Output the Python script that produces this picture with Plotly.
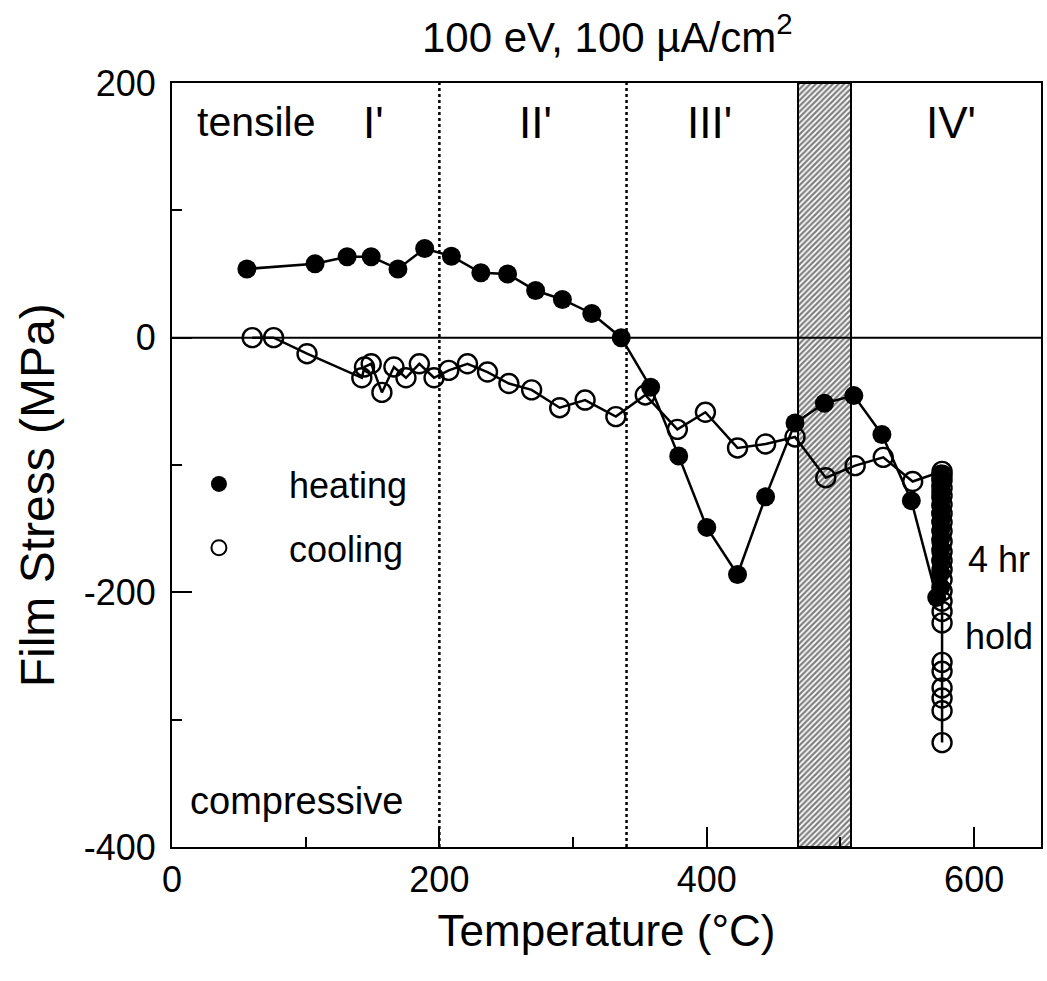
import plotly.graph_objects as go

# ---------------- data ----------------
heat_T = [56, 107, 131, 149, 169, 189, 209, 231, 251, 272, 292, 314, 336, 358, 379, 400,
          423, 444, 466, 488, 510, 531, 553, 572,
          575, 575, 575, 575, 575, 575, 575, 575, 575, 575, 575, 575, 575, 575]
heat_S = [54, 58, 63.5, 63.5, 54, 70, 64, 51, 50, 37, 30, 19, 0, -39, -93, -149,
          -186, -125, -67, -51.5, -45.5, -76, -128, -204,
          -196, -185, -175, -166, -158, -151, -144, -138, -132, -126, -121, -116, -111, -107]

cool_T = [576] * 24 + [554, 532, 511, 489, 466, 444, 423, 399, 378, 354, 332, 309, 290, 269,
                       252, 236, 221, 207, 196, 185, 175, 166, 157, 149, 144, 142, 101, 76, 60]
cool_S = [-318, -293, -283, -275, -262, -255, -224, -215, -207, -199, -190, -182, -175, -168,
          -160, -152, -145, -138, -131, -124, -118, -112, -108, -105,
          -113, -94, -100.5, -110, -78, -83.5, -86.6, -58.6, -72, -45, -62, -49, -55, -41,
          -36, -27, -20.5, -25.7, -31.5, -20.5, -31.5, -23, -43, -20.5, -23, -31.5, -12.6, 0, 0]

region_bounds = [200, 340]          # dotted region separators
hatch_band = [468, 508]             # hatched temperature band
region_labels = ["I'", "II'", "III'", "IV'"]
region_label_T = [151, 272, 402, 583]

x_ticks = [0, 200, 400, 600]
y_ticks = [-400, -200, 0, 200]
y_tick_text = ["-400", "-200", "0", "200"]

FONT = "Liberation Sans, Arial, sans-serif"

fig = go.Figure()

# hatched band
fig.add_trace(go.Bar(
    x=[(hatch_band[0] + hatch_band[1]) / 2], y=[600], base=[-400],
    width=[hatch_band[1] - hatch_band[0]],
    marker=dict(color="white", line=dict(color="black", width=2),
                pattern=dict(shape="/", fgcolor="black", bgcolor="white", size=4, solidity=0.55)),
    showlegend=False, hoverinfo="skip"))

fig.add_trace(go.Scatter(
    x=heat_T, y=heat_S, mode="lines+markers",
    line=dict(color="black", width=2.5),
    marker=dict(symbol="circle", size=19, color="black"),
    showlegend=False))

fig.add_trace(go.Scatter(
    x=cool_T, y=cool_S, mode="lines+markers",
    line=dict(color="black", width=2.5),
    marker=dict(symbol="circle-open", size=19, color="black", line=dict(width=2.4)),
    showlegend=False))

# legend entries
nb = "\u00a0" * 5
fig.add_trace(go.Scatter(x=[None], y=[None], mode="markers", name=nb + "heating",
                         marker=dict(symbol="circle", size=16, color="black"),
                         legendgroup="h"))
fig.add_trace(go.Scatter(x=[None], y=[None], mode="markers", name=nb + "cooling",
                         marker=dict(symbol="circle-open", size=15, color="black", line=dict(width=2)),
                         legendgroup="c"))

for xb in region_bounds:
    fig.add_shape(type="line", x0=xb, x1=xb, y0=0, y1=1, xref="x", yref="paper",
                  line=dict(color="black", width=2.5, dash="dot"))

fig.add_shape(type="line", x0=0, x1=1, y0=0, y1=0, xref="paper", yref="y",
              line=dict(color="black", width=2), layer="above")

for lab, xt in zip(region_labels, region_label_T):
    fig.add_annotation(x=xt, y=169, text=lab, showarrow=False,
                       font=dict(size=44, family=FONT, color="black"))

fig.add_annotation(x=17, y=169, text="tensile", showarrow=False, xanchor="left",
                   font=dict(size=41, family=FONT, color="black"))
fig.add_annotation(x=12, y=-364, text="compressive", showarrow=False, xanchor="left",
                   font=dict(size=38, family=FONT, color="black"))
fig.add_annotation(x=594, y=-174, text="4 hr", showarrow=False, xanchor="left",
                   font=dict(size=36, family=FONT, color="black"))
fig.add_annotation(x=592, y=-235, text="hold", showarrow=False, xanchor="left",
                   font=dict(size=36, family=FONT, color="black"))

# y-axis title (placed to match the reference's offset position)
fig.add_annotation(xref="paper", yref="paper", x=(38 - 172) / 871, y=(847 - 495) / 764,
                   text="Film Stress (MPa)", textangle=-90, showarrow=False,
                   xanchor="center", yanchor="middle",
                   font=dict(size=48, family=FONT, color="black"))

fig.update_layout(
    width=1047, height=981,
    margin=dict(l=172, r=4, t=83, b=134),
    paper_bgcolor="white", plot_bgcolor="white",
    title=dict(text="100 eV, 100 \u00b5A/cm<sup>2</sup>", x=0.58, xanchor="center",
               y=1 - 37 / 981, yanchor="middle",
               font=dict(size=42, family=FONT, color="black")),
    legend=dict(x=(199 - 172) / 871, y=(847 - 454) / 764, xanchor="left", yanchor="top",
                bgcolor="rgba(0,0,0,0)", font=dict(size=36, family=FONT, color="black"),
                tracegroupgap=14),
    bargap=0,
)

fig.update_xaxes(range=[0, 650], showline=True, mirror=True, linecolor="black", linewidth=2,
                 ticks="inside", ticklen=20, tickwidth=2, tickcolor="black",
                 tickvals=x_ticks, showgrid=False, zeroline=False,
                 minor=dict(ticks="inside", ticklen=10, tickwidth=2, tickcolor="black", dtick=100, showgrid=False),
                 tickfont=dict(size=36, family=FONT, color="black"),
                 ticklabelstandoff=0,
                 title=dict(text="Temperature (\u00b0C)", standoff=16,
                            font=dict(size=44, family=FONT, color="black")))
fig.update_yaxes(range=[-400, 200], showline=True, mirror=True, linecolor="black", linewidth=2,
                 ticks="inside", ticklen=20, tickwidth=2, tickcolor="black",
                 tickvals=y_ticks, ticktext=y_tick_text, showgrid=False, zeroline=False,
                 minor=dict(ticks="inside", ticklen=10, tickwidth=2, tickcolor="black", dtick=100, showgrid=False),
                 tickfont=dict(size=36, family=FONT, color="black"),
                 ticklabelstandoff=7)

fig.write_html("out.html")
